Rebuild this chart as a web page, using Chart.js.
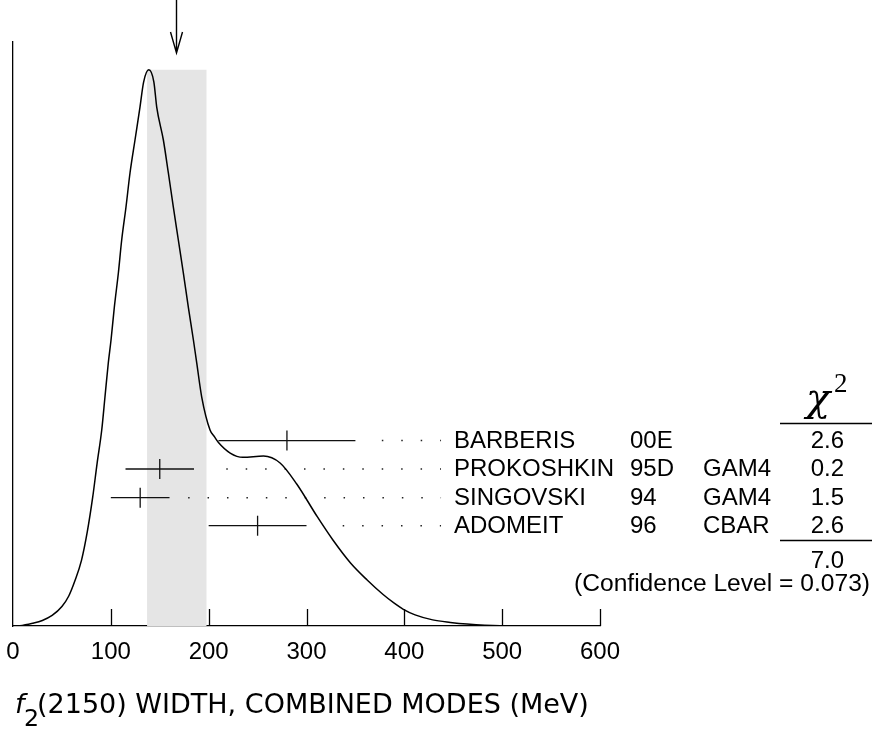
<!DOCTYPE html>
<html>
<head>
<meta charset="utf-8">
<script src="https://cdn.jsdelivr.net/npm/chart.js@4.4.1/dist/chart.umd.min.js"></script>
<style>
  html, body { margin: 0; padding: 0; background: #fff; }
  #wrap { width: 872px; height: 729px; }
</style>
</head>
<body>
<div id="wrap"><canvas id="ideogram" width="872" height="729"></canvas></div>
<script>
"use strict";

// ideogram curve (MeV, arbitrary height, peak = 1)
const curveX = [0, 7, 20, 30, 40, 50, 57, 63, 70, 76, 81.5, 86, 90.7, 94, 97.4, 100.2, 103.6, 107.7, 111.1, 115.5, 119.6, 124.7, 129.8, 133.5, 138.8,
    144, 146.9, 153.7, 158.8, 163.9, 169, 174.1, 179.2, 184.4, 187.8, 192.9, 201.4, 206, 210, 222, 235, 256, 273, 290, 311, 327, 345, 362, 378, 390, 399, 411, 429, 447, 464, 498, 550, 600];
const curveY = [0, 0.0005, 0.005, 0.010, 0.019, 0.035, 0.054, 0.080, 0.118, 0.170, 0.232, 0.293, 0.3524, 0.4117, 0.4729, 0.5142, 0.5735, 0.6347, 0.694, 0.7533, 0.8145, 0.8738, 0.9331, 0.978, 1.0,
    0.978, 0.9331, 0.8738, 0.8145, 0.7533, 0.694, 0.6347, 0.5735, 0.5142, 0.4729, 0.4117, 0.3524, 0.3400, 0.3300, 0.311, 0.3033, 0.3056, 0.2931, 0.2553, 0.1965, 0.1546, 0.1133, 0.0827, 0.0570, 0.0405, 0.0300, 0.0200, 0.0110, 0.0065, 0.0035, 0.0005, 0, 0];

// measurements
const names = ['BARBERIS', 'PROKOSHKIN', 'SINGOVSKI', 'ADOMEIT'];
const years = ['00E', '95D', '94', '96'];
const techs = ['', 'GAM4', 'GAM4', 'CBAR'];
const values = [280, 150, 130, 250];
const errors = [70, 35, 30, 50];
const chi2 = ['2.6', '0.2', '1.5', '2.6'];
const chi2Total = '7.0';
const confLevel = '0.073';

// weighted average and its band
const average = 167;
const bandLow = 137;
const bandHigh = 198;

const xTicks = [0, 100, 200, 300, 400, 500, 600];
const xTitle = '(2150) WIDTH, COMBINED MODES (MeV)';

// layout only (heights of rows on the y scale, where the dotted leaders start)
const rowLevels = [0.3333, 0.2823, 0.2307, 0.1803];
const leaderStart = [377, 218, 179, 337];
const leaderEnd = 437.5;

const datasets = [];

datasets.push({
    label: 'curve',
    data: curveX.map((v, i) => ({x: v, y: curveY[i]})),
    borderColor: '#000',
    borderWidth: 1.5,
    pointRadius: 0,
    cubicInterpolationMode: 'monotone',
    fill: false,
    order: 1,
});

names.forEach((n, i) => {
    datasets.push({
        label: n,
        data: [{x: values[i] - errors[i], y: rowLevels[i]}, {x: values[i] + errors[i], y: rowLevels[i]}],
        borderColor: '#111',
        borderWidth: 1.3,
        pointRadius: 0,
        order: 2,
    });
    datasets.push({
        label: n + ' dots',
        data: [{x: leaderStart[i], y: rowLevels[i]}, {x: leaderEnd, y: rowLevels[i]}],
        borderColor: '#222',
        borderWidth: 1.5,
        borderDash: [1.5, 17.93],
        pointRadius: 0,
        order: 2,
    });
});

datasets.push({
    label: 'centres',
    data: values.map((v, i) => ({x: v, y: rowLevels[i]})),
    showLine: false,
    pointStyle: 'line',
    rotation: 90,
    pointRadius: 10,
    borderColor: '#111',
    borderWidth: 1.3,
    order: 2,
});

datasets.push({
    label: 'band',
    data: [{x: bandLow, y: 1.0}, {x: bandHigh, y: 1.0}],
    borderWidth: 0,
    borderColor: 'rgba(0,0,0,0)',
    backgroundColor: '#e5e5e5',
    pointRadius: 0,
    fill: 'origin',
    order: 10,
});

const overlay = {
    id: 'overlay',
    afterDatasetsDraw(chart) {
        const {ctx, scales: {x, y}} = chart;
        ctx.save();
        ctx.strokeStyle = '#000';
        ctx.fillStyle = '#000';

        // tick marks pointing up into the plot
        ctx.lineWidth = 1.3;
        const base = y.getPixelForValue(0);
        xTicks.forEach(v => {
            if (v === 0) return;
            const px = Math.round(x.getPixelForValue(v)) + 0.5;
            ctx.beginPath();
            ctx.moveTo(px, base);
            ctx.lineTo(px, base - 17);
            ctx.stroke();
        });

        // arrow on the average
        const ax = Math.round(x.getPixelForValue(average)) + 0.5;
        ctx.lineWidth = 1.4;
        ctx.beginPath();
        ctx.moveTo(ax, 0);
        ctx.lineTo(ax, 52);
        ctx.moveTo(ax - 6, 32);
        ctx.lineTo(ax, 53);
        ctx.lineTo(ax + 6, 32);
        ctx.stroke();

        // table of measurements
        ctx.font = '24px "Liberation Sans", Arial, sans-serif';
        ctx.textBaseline = 'alphabetic';
        names.forEach((n, i) => {
            const by = y.getPixelForValue(rowLevels[i]) + 7.5;
            ctx.textAlign = 'left';
            ctx.fillText(n, 454, by);
            ctx.fillText(years[i], 630, by);
            ctx.fillText(techs[i], 703, by);
            ctx.textAlign = 'right';
            ctx.fillText(chi2[i], 844, by);
        });
        ctx.textAlign = 'right';
        ctx.fillText(chi2Total, 844, 568);
        ctx.font = '24.6px "Liberation Sans", Arial, sans-serif';
        ctx.fillText('(Confidence Level = ' + confLevel + ')', 870, 591);

        // chi2 header and rules
        ctx.textAlign = 'left';
        ctx.font = 'italic 40px "DejaVu Serif", serif';
        ctx.fillText('\u03c7', 806, 411);
        ctx.font = '27px "Liberation Serif", serif';
        ctx.fillText('2', 834, 392);
        ctx.lineWidth = 1.3;
        ctx.beginPath();
        ctx.moveTo(780, 423.5);
        ctx.lineTo(872, 423.5);
        ctx.moveTo(780, 540.5);
        ctx.lineTo(872, 540.5);
        ctx.stroke();

        // axis title, f_2 with subscript
        ctx.font = '24px "DejaVu Sans", sans-serif';
        const w = ctx.measureText(xTitle).width;
        const size = 24 * 551 / w;
        ctx.font = 'italic ' + size.toFixed(1) + 'px "DejaVu Sans", sans-serif';
        ctx.fillText('f', 15, 713);
        ctx.font = (size * 0.88).toFixed(1) + 'px "DejaVu Sans", sans-serif';
        ctx.fillText('2', 24, 726);
        ctx.font = size.toFixed(1) + 'px "DejaVu Sans", sans-serif';
        ctx.fillText(xTitle, 37, 713);

        ctx.restore();
    }
};

new Chart(document.getElementById('ideogram'), {
    type: 'line',
    data: {datasets: datasets},
    options: {
        responsive: false,
        animation: false,
        devicePixelRatio: 1,
        layout: {padding: {left: 13, right: 272, top: 42, bottom: 0}},
        plugins: {
            legend: {display: false},
            tooltip: {enabled: false},
        },
        scales: {
            x: {
                type: 'linear',
                min: 0,
                max: 600,
                afterBuildTicks: (s) => { s.ticks = xTicks.map(v => ({value: v})); },
                afterFit: (s) => { s.height = 103; s.paddingLeft = 0; s.paddingRight = 0; },
                grid: {display: false, drawTicks: false},
                border: {display: true, color: '#000', width: 1.3},
                ticks: {
                    color: '#000',
                    padding: 12,
                    font: {family: 'Liberation Sans', size: 24},
                },
            },
            y: {
                type: 'linear',
                min: 0,
                max: 1.05,
                afterFit: (s) => { s.width = 0; },
                grid: {display: false, drawTicks: false},
                border: {display: true, color: '#000', width: 1.3},
                ticks: {display: false},
            },
        },
    },
    plugins: [overlay],
});
</script>
</body>
</html>
